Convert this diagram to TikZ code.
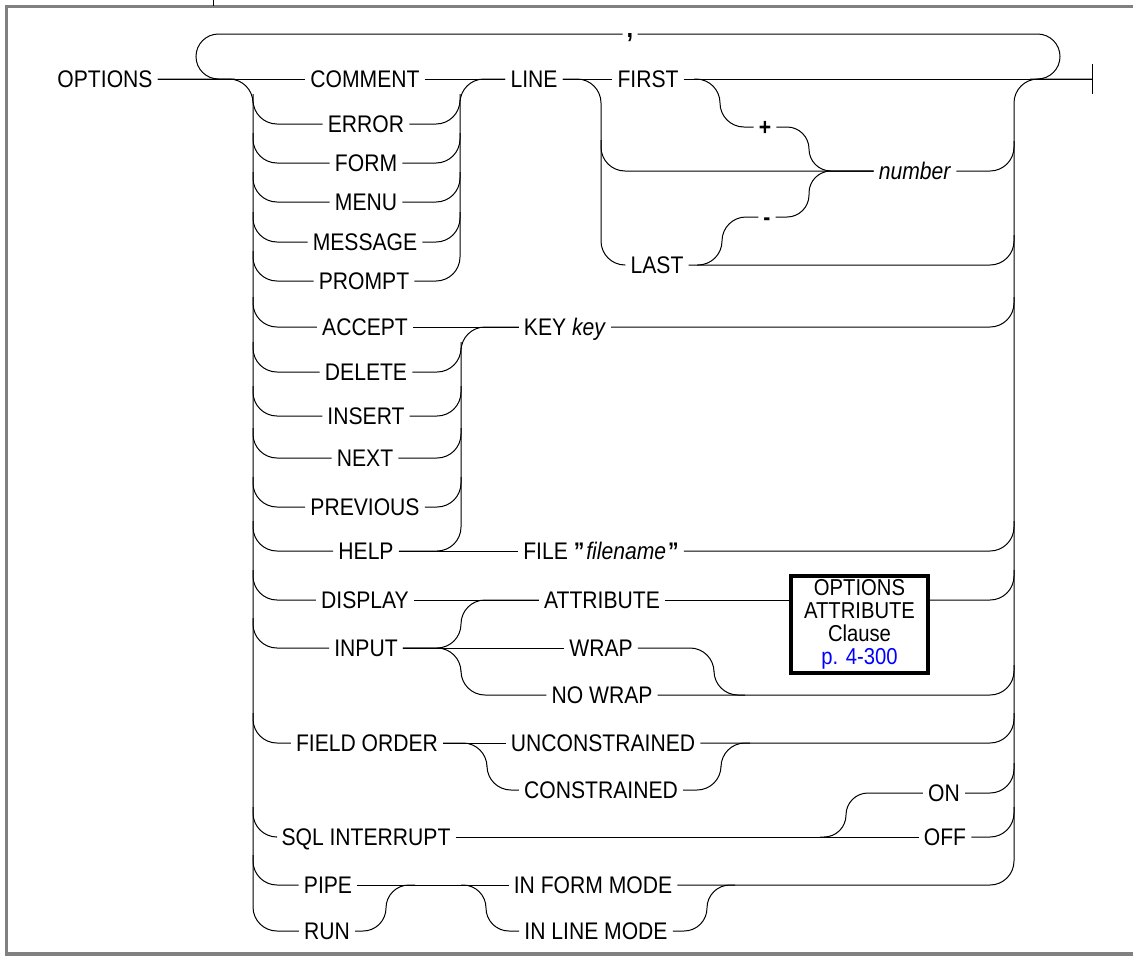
\documentclass[tikz,border=0pt]{standalone}
\usepackage{fontspec}
\setmainfont{Liberation Sans}[FakeStretch=0.88]
\usetikzlibrary{calc}
\definecolor{framegray}{RGB}{128,128,128}
\definecolor{linkblue}{RGB}{0,0,255}
\begin{document}
\begin{tikzpicture}[x=1pt,y=-1pt,
  lab/.style={font=\fontsize{24}{24}\selectfont, inner xsep=5pt, inner ysep=1pt,
              text height=17pt, text depth=0pt, anchor=center},
  clausebox/.style={draw, line width=3.5pt, font=\fontsize{23}{22.8}\selectfont,
              align=center, minimum width=137pt, minimum height=97pt, inner sep=0pt},
  wire/.style={line width=1pt, black},
  rr/.style={rounded corners=24pt},
  rs/.style={rounded corners=22pt},
  rt/.style={rounded corners=23pt}
]
\useasboundingbox (0,0) rectangle (1133,956);
% frame
\draw[framegray, line width=3pt] (6.5,958) -- (6.5,6.5) -- (1135,6.5);
\draw[framegray, line width=4.5pt] (5,954) -- (1135,954);
\draw[line width=1pt] (213,0) -- (213,6);

% bus coordinates
\coordinate (lbx) at (253,0);
\coordinate (g1x) at (460,0);
\coordinate (g2x) at (461,0);
\coordinate (rbx) at (1014,0);
\coordinate (endpt) at (1092,79);
\coordinate (loopL) at (235,79);
\coordinate (loopR) at (1030,79);

% labels
\node[lab] (options) at (105,79) {OPTIONS};
\node[lab] (comment) at (365,79) {COMMENT};
\node[lab] (error) at (366,124) {ERROR};
\node[lab] (form) at (366,163) {FORM};
\node[lab] (menu) at (366,202) {MENU};
\node[lab] (message) at (365,242) {MESSAGE};
\node[lab] (prompt) at (364,281) {PROMPT};
\node[lab] (accept) at (365,327) {ACCEPT};
\node[lab] (delete) at (366,372) {DELETE};
\node[lab] (insert) at (366,416) {INSERT};
\node[lab] (next) at (365,458) {NEXT};
\node[lab] (previous) at (365,507) {PREVIOUS};
\node[lab] (help) at (366,551) {HELP};
\node[lab] (display) at (365,600) {DISPLAY};
\node[lab] (input) at (366,648) {INPUT};
\node[lab] (fieldorder) at (367,743) {FIELD ORDER};
\node[lab] (sql) at (366,837) {SQL INTERRUPT};
\node[lab] (pipe) at (328,885) {PIPE};
\node[lab] (run) at (327,931) {RUN};

\node[lab] (line) at (534,79) {LINE};
\node[lab] (first) at (648,79) {FIRST};
\node[lab] (plus) at (765,127) {\textbf{+}};
\node[lab] (number) at (915,171) {\textit{number}};
\node[lab] (minus) at (767,217) {\textbf{-}};
\node[lab] (last) at (657,265) {LAST};
\node[lab] (key) at (565,327) {KEY \textit{key}};
\node[lab] (file) at (601,551) {FILE \textbf{"}\hspace{2pt}\textit{filename}\hspace{2pt}\textbf{"}};
\node[lab] (attribute) at (602,600) {ATTRIBUTE};
\node[lab] (wrap) at (601,648) {WRAP};
\node[lab] (nowrap) at (602,695) {NO WRAP};
\node[lab] (uncon) at (603,743) {UNCONSTRAINED};
\node[lab] (con) at (601,790) {CONSTRAINED};
\node[lab] (on) at (944,793) {ON};
\node[lab] (off) at (945,837) {OFF};
\node[lab] (inform) at (593,885) {IN FORM MODE};
\node[lab] (inline) at (596,931) {IN LINE MODE};
\node[clausebox] (box) at (859.5,624.5)
  {OPTIONS\\ATTRIBUTE\\Clause\\\textcolor{linkblue}{p. 4-300}};
\node[font=\bfseries\fontsize{27}{27}\selectfont, inner xsep=4pt, inner ysep=0pt,
      text height=6pt, text depth=0pt] (comma) at (630,34) {,};

% main line, left bus, loop
\draw[wire,rr] (options.east) -| (253,931) -- (run.west);
\draw[wire] (options.east) -- (comment.west);
\draw[wire,rounded corners=22.5pt] (loopL) -- (196,79) -- (196,34) -- (comma.west);
\draw[wire,rounded corners=22.5pt] (comma.east) -- (1060,34) -- (1060,79) -- (loopR);
\foreach \n in {error,form,menu,message,prompt,accept,delete,insert,next,previous,help,display,input,fieldorder,sql,pipe}
  \draw[wire,rr] ($(\n.west -| lbx)+(0,-30)$) |- (\n.west);

% group 1
\draw[wire] (comment.east) -- (line.west);
\draw[wire,rr] (prompt.east) -| (460,79) -- (line.west);
\foreach \n in {error,form,menu,message}
  \draw[wire,rr] (\n.east) -| ($(\n.east -| g1x)+(0,-30)$);

% LINE group
\draw[wire] (line.east) -- (first.west);
\draw[wire,rr] (line.east) -| (601,265) -- (last.west);
\draw[wire,rr] (601,140) |- (number.west);
\draw[wire] (first.east) -- (endpt);
\draw[wire] (endpt) ++(0,-15) -- ++(0,30);
\coordinate (fp) at (694,79);
\draw[wire,rr] (fp) -| (720,127) -- (plus.west);
\draw[wire,rs] (plus.east) -| (809,171) -- (number.west);
\coordinate (lp) at (697,265);
\draw[wire,rr] (lp) -| (722,217) -- (minus.west);
\draw[wire,rs] (minus.east) -| (809,171) -- (number.west);

% right bus
\draw[wire,rr] (inform.east) -| (1014,79) -- (endpt);
\foreach \n in {number,last,key,file,nowrap,uncon,on,off}
  \draw[wire,rr] (\n.east) -| ($(\n.east -| rbx)+(0,-30)$);
\draw[wire,rr] (box.east |- attribute.east) -| ($(rbx |- attribute.east)+(0,-30)$);

% group 2
\draw[wire] (accept.east) -- (key.west);
\draw[wire,rr] (help.east) -| (461,327) -- (key.west);
\foreach \n in {delete,insert,next,previous}
  \draw[wire,rr] (\n.east) -| ($(\n.east -| g2x)+(0,-30)$);
\draw[wire] (help.east) -- (file.west);

% group 3
\draw[wire] (display.east) -- (attribute.west);
\draw[wire,rr] (input.east) -| (461,600) -- (attribute.west);
\draw[wire] (input.east) -- (wrap.west);
\draw[wire,rr] (input.east) -| (461,695) -- (nowrap.west);
\draw[wire] (attribute.east) -- (attribute.east -| box.west);
\coordinate (wj) at (745,695);
\draw[wire,rr] (wrap.east) -| (714,695) -- (wj);

% field order
\draw[wire] (fieldorder.east) -- (uncon.west);
\draw[wire,rr] (fieldorder.east) -| (487,790) -- (con.west);
\coordinate (cj) at (750,743);
\draw[wire,rr] (con.east) -| (721,743) -- (cj);

% sql interrupt
\draw[wire] (sql.east) -- (off.west);
\coordinate (sj) at (820,837);
\draw[wire,rs] (sj) -| (846,793) -- (on.west);

% pipe / run
\draw[wire] (pipe.east) -- (inform.west);
\coordinate (rj) at (415,885);
\draw[wire,rt] (run.east) -| (386,885) -- (rj);
\coordinate (pj) at (461,885);
\draw[wire,rt] (pj) -| (486,931) -- (inline.west);
\coordinate (ij) at (735,885);
\draw[wire,rt] (inline.east) -| (707,885) -- (ij);
\end{tikzpicture}
\end{document}
